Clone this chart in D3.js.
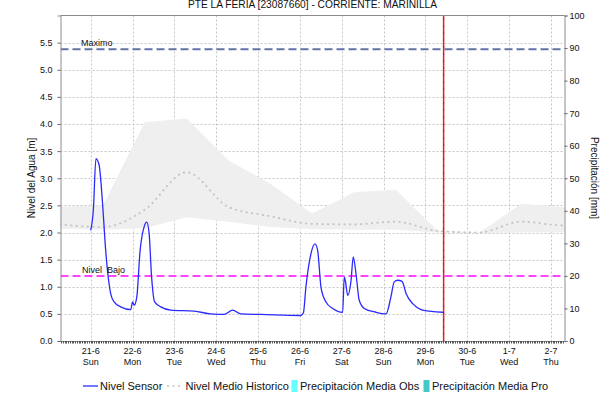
<!DOCTYPE html>
<html><head><meta charset="utf-8">
<script src="https://cdn.jsdelivr.net/npm/d3@7"></script>
<style>
body{margin:0;background:#fff}
text{font-family:"Liberation Sans",Arial,sans-serif;fill:#111}
</style>
</head><body><svg id="c" width="615" height="404"></svg>
<script>
// ---------- data ----------
const title = "PTE LA FERIA [23087660] - CORRIENTE: MARINILLA";
const leftLabel = "Nivel del Agua [m]";
const rightLabel = "Precipitación [mm]";

const sensorTime = [
 "2020-06-21 00:00","2020-06-21 01:30","2020-06-21 03:00","2020-06-21 04:50","2020-06-21 06:40",
 "2020-06-21 08:35","2020-06-21 10:30","2020-06-21 11:25","2020-06-21 13:25","2020-06-21 17:10",
 "2020-06-21 23:00","2020-06-22 00:00","2020-06-22 00:55","2020-06-22 02:25","2020-06-22 04:20",
 "2020-06-22 06:35","2020-06-22 08:10","2020-06-22 09:30","2020-06-22 10:55","2020-06-22 12:40",
 "2020-06-22 16:10","2020-06-22 21:55","2020-06-23 11:20","2020-06-23 20:55","2020-06-24 04:30",
 "2020-06-24 09:25","2020-06-24 14:05","2020-06-25 01:35","2020-06-26 00:35","2020-06-26 02:00",
 "2020-06-26 03:25","2020-06-26 06:20","2020-06-26 08:35","2020-06-26 10:10","2020-06-26 12:05",
 "2020-06-26 14:55","2020-06-26 18:50","2020-06-27 00:30","2020-06-27 01:25","2020-06-27 02:00",
 "2020-06-27 03:25","2020-06-27 05:20","2020-06-27 06:35","2020-06-27 08:10","2020-06-27 10:00",
 "2020-06-27 12:55","2020-06-27 19:35","2020-06-28 01:25","2020-06-28 04:10","2020-06-28 06:05",
 "2020-06-28 08:05","2020-06-28 10:35","2020-06-28 12:55","2020-06-28 16:40","2020-06-28 21:30",
 "2020-06-29 02:10","2020-06-29 09:55","2020-06-29 10:25"
];
const sensorLevel = [
 2.04,2.41,3.36,3.24,2.59,
 1.67,1.06,0.88,0.72,0.63,
 0.58,0.72,0.66,0.81,1.67,
 2.10,2.19,1.98,1.18,0.72,
 0.63,0.57,0.55,0.50,0.49,
 0.57,0.50,0.49,0.47,0.52,
 0.99,1.61,1.79,1.67,0.99,
 0.72,0.60,0.53,1.18,1.12,
 0.84,1.12,1.55,1.24,0.75,
 0.60,0.53,0.50,0.81,1.09,
 1.12,1.10,0.87,0.69,0.58,
 0.55,0.53,0.53
];

const histTime = [
 "2020-06-20 06:00","2020-06-21 07:00","2020-06-22 07:00","2020-06-23 07:00","2020-06-24 07:00",
 "2020-06-25 07:00","2020-06-26 07:00","2020-06-27 07:00","2020-06-28 07:00","2020-06-29 07:00",
 "2020-06-30 07:00","2020-07-01 07:00","2020-07-02 07:00","2020-07-02 09:00"
];
const histUpper = [2.48,2.50,4.03,4.10,3.33,2.90,2.35,2.74,2.79,2.03,2.00,2.53,2.47,2.47];
const histMean  = [2.15,2.10,2.42,3.11,2.47,2.30,2.16,2.15,2.20,2.03,2.00,2.20,2.13,2.13];
const histLower = [2.07,2.05,2.08,2.28,2.20,2.10,2.06,2.05,2.05,2.00,1.99,2.00,2.00,2.00];

const nivelMaximo = 5.38;
const nivelBajo = 1.2;
const nowTime = "2020-06-29 10:25";
const xDomain = ["2020-06-20 06:40","2020-07-02 07:45"];
const leftDomain = [0, 6];
const rightDomain = [0, 100];
const leftTicks = [0,0.5,1,1.5,2,2.5,3,3.5,4,4.5,5,5.5];
const rightTicks = [0,10,20,30,40,50,60,70,80,90,100];
const legendLabels = ["Nivel Sensor","Nivel Medio Historico","Precipitación Media Obs","Precipitación Media Pro"];

// ---------- layout ----------
const L = 60.5, R = 564.5, T = 15.5, B = 341;
const parse = d3.timeParse("%Y-%m-%d %H:%M");
const svg = d3.select("#c");

const x = d3.scaleTime().domain(xDomain.map(parse)).range([L, R]);
const y = d3.scaleLinear().domain(leftDomain).range([B, T]);
const y2 = d3.scaleLinear().domain(rightDomain).range([B, T]);

svg.append("defs").append("clipPath").attr("id","clip")
  .append("rect").attr("x",L).attr("y",T).attr("width",R-L).attr("height",B-T);

// title
svg.append("text").attr("x",312.5).attr("y",8).attr("text-anchor","middle")
  .style("font-size","10.2px").text(title);

// gridlines
const days = x.ticks(d3.timeDay.every(1));
const grid = svg.append("g").attr("stroke","#c6c6c6").attr("stroke-width",1).attr("stroke-dasharray","2,2");
grid.selectAll(".gx").data(days).join("line")
  .attr("x1",d=>Math.round(x(d))+0.5).attr("x2",d=>Math.round(x(d))+0.5).attr("y1",T).attr("y2",B);
grid.selectAll(".gy").data(leftTicks.filter(d=>d>0)).join("line")
  .attr("x1",L).attr("x2",R).attr("y1",d=>Math.round(y(d))+0.5).attr("y2",d=>Math.round(y(d))+0.5);

const plot = svg.append("g").attr("clip-path","url(#clip)");
const hist = histTime.map((t,i)=>({t:parse(t),u:histUpper[i],m:histMean[i],l:histLower[i]}));

plot.append("path").datum(hist).attr("fill","#efefef")
  .attr("d", d3.area().x(d=>x(d.t)).y0(d=>y(d.l)).y1(d=>y(d.u)));
plot.append("path").datum(hist).attr("fill","none").attr("stroke","#c2c2c2")
  .attr("stroke-width",1.7).attr("stroke-dasharray","2,3.5")
  .attr("d", d3.line().x(d=>x(d.t)).y(d=>y(d.m)).curve(d3.curveMonotoneX));

// reference levels
plot.append("line").attr("x1",L).attr("x2",R).attr("y1",y(nivelMaximo)).attr("y2",y(nivelMaximo))
  .attr("stroke","#6374a4").attr("stroke-width",2).attr("stroke-dasharray","8,4");
plot.append("line").attr("x1",L).attr("x2",R).attr("y1",y(nivelBajo)).attr("y2",y(nivelBajo))
  .attr("stroke","#ff44ff").attr("stroke-width",2).attr("stroke-dasharray","8,4");
svg.append("text").attr("x",81).attr("y",y(nivelMaximo)-3).style("font-size","9px").text("Maximo");
svg.append("text").attr("x",82).attr("y",y(nivelBajo)-2.5).style("font-size","9px").attr("xml:space","preserve").text("Nivel  Bajo");

// sensor
const sensor = sensorTime.map((t,i)=>({t:parse(t),v:sensorLevel[i]}));
plot.append("path").datum(sensor).attr("fill","none").attr("stroke","#2a2aff").attr("stroke-width",1.3)
  .attr("d", d3.line().x(d=>x(d.t)).y(d=>y(d.v)).curve(d3.curveMonotoneX));

// now line
const nx = x(parse(nowTime));
svg.append("line").attr("x1",nx).attr("x2",nx).attr("y1",T).attr("y2",B)
  .attr("stroke","#e02424").attr("stroke-width",1.5);
svg.append("line").attr("x1",nx).attr("x2",nx).attr("y1",T+3).attr("y2",B)
  .attr("stroke","#7a1010").attr("stroke-width",1).attr("stroke-dasharray","1,6");

// frame
svg.append("line").attr("x1",L).attr("x2",R).attr("y1",T).attr("y2",T).attr("stroke","#8c8c8c");

// left axis
const ax = svg.append("g").attr("transform",`translate(${L},0)`)
  .call(d3.axisLeft(y).tickValues(leftTicks).tickSize(3).tickPadding(5).tickFormat(d3.format(".1f")));
ax.select(".domain").attr("stroke","#8c8c8c");
ax.selectAll(".tick line").attr("stroke","#666");
ax.selectAll("text").style("font-size","9px").style("font-family",'"Liberation Sans",Arial,sans-serif').attr("fill","#111");

// right axis
const ar = svg.append("g").attr("transform",`translate(${R},0)`)
  .call(d3.axisRight(y2).tickValues(rightTicks).tickSize(3).tickPadding(2));
ar.select(".domain").attr("stroke","#8c8c8c");
ar.selectAll(".tick line").attr("stroke","#666");
ar.selectAll("text").style("font-size","9px").style("font-family",'"Liberation Sans",Arial,sans-serif').attr("fill","#111");

// bottom axis
svg.append("line").attr("x1",L).attr("x2",R).attr("y1",B+0.5).attr("y2",B+0.5).attr("stroke","#8c8c8c");
svg.append("g").selectAll("line").data(x.ticks(d3.timeHour.every(1))).join("line")
  .attr("x1",d=>Math.round(x(d))+0.5).attr("x2",d=>Math.round(x(d))+0.5)
  .attr("y1",B).attr("y2",B+2.5).attr("stroke","#555");
const fDay = d3.timeFormat("%-d-%-m"), fWd = d3.timeFormat("%a");
const xl = svg.append("g").style("font-size","9px");
xl.selectAll(".d").data(days).join("text").attr("x",d=>x(d)).attr("y",354).attr("text-anchor","middle").text(fDay);
xl.selectAll(".w").data(days).join("text").attr("x",d=>x(d)).attr("y",365).attr("text-anchor","middle").text(fWd);

// axis titles
svg.append("text").attr("transform","translate(35,178) rotate(-90)").attr("text-anchor","middle")
  .style("font-size","10px").text(leftLabel);
svg.append("text").attr("transform","translate(591,178) rotate(90)").attr("text-anchor","middle")
  .style("font-size","10px").text(rightLabel);

// legend
const lg = svg.append("g").style("font-size","11px");
lg.append("line").attr("x1",83).attr("x2",98).attr("y1",386).attr("y2",386).attr("stroke","#2a2aff").attr("stroke-width",1.3);
lg.append("text").attr("x",100).attr("y",389.5).text(legendLabels[0]);
lg.append("line").attr("x1",167).attr("x2",182).attr("y1",386).attr("y2",386).attr("stroke","#c2c2c2").attr("stroke-width",1.7).attr("stroke-dasharray","2,3.5");
lg.append("text").attr("x",185.5).attr("y",389.5).text(legendLabels[1]);
lg.append("rect").attr("x",291.5).attr("y",380).attr("width",6).attr("height",12).attr("fill","#66ffff");
lg.append("text").attr("x",300).attr("y",389.5).text(legendLabels[2]);
lg.append("rect").attr("x",423.5).attr("y",380).attr("width",6).attr("height",12).attr("fill","#44c8c8");
lg.append("text").attr("x",432).attr("y",389.5).text(legendLabels[3]);
</script>
</body></html>
